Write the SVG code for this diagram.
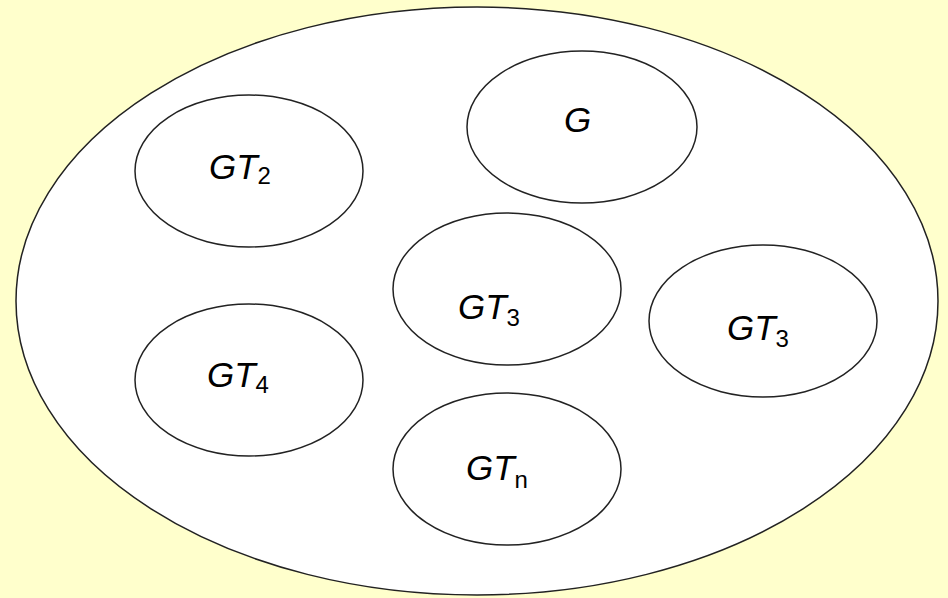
<svg xmlns="http://www.w3.org/2000/svg" width="948" height="598" viewBox="0 0 948 598">
<style>
.bg{fill:#FFFFCC}
.outer{fill:#FFFFFF;stroke:#222;stroke-width:1.5}
.set{fill:#FFFFFF;stroke:#222;stroke-width:1.5}
.lbl{font-family:"Liberation Sans",Arial,sans-serif;font-size:35px;font-style:italic;fill:#000}
.sub{font-family:"Liberation Sans",Arial,sans-serif;font-size:24px;font-style:normal;fill:#000}
</style>
<rect class="bg" x="0" y="0" width="948" height="598"/>
<g id="universe">
<ellipse class="outer" cx="477" cy="301" rx="461" ry="294"/>
</g>
<g id="connectors"></g>
<g id="node-GT2">
<ellipse class="set" cx="249" cy="171" rx="114" ry="76"/>
<text class="lbl" x="209" y="179">GT<tspan class="sub" dy="5">2</tspan></text>
</g>
<g id="node-G">
<ellipse class="set" cx="582" cy="127" rx="115" ry="76"/>
<text class="lbl" x="564" y="132">G</text>
</g>
<g id="node-GT3-mid">
<ellipse class="set" cx="507" cy="289" rx="114" ry="76"/>
<text class="lbl" x="458" y="319">GT<tspan class="sub" dy="7">3</tspan></text>
</g>
<g id="node-GT3-right">
<ellipse class="set" cx="763" cy="321" rx="114" ry="76"/>
<text class="lbl" x="727" y="340">GT<tspan class="sub" dy="7">3</tspan></text>
</g>
<g id="node-GT4">
<ellipse class="set" cx="249" cy="380" rx="114" ry="76"/>
<text class="lbl" x="207" y="387">GT<tspan class="sub" dy="6">4</tspan></text>
</g>
<g id="node-GTn">
<ellipse class="set" cx="507" cy="469" rx="114" ry="76"/>
<text class="lbl" x="466" y="480">GT<tspan class="sub" dy="8">n</tspan></text>
</g>
</svg>
